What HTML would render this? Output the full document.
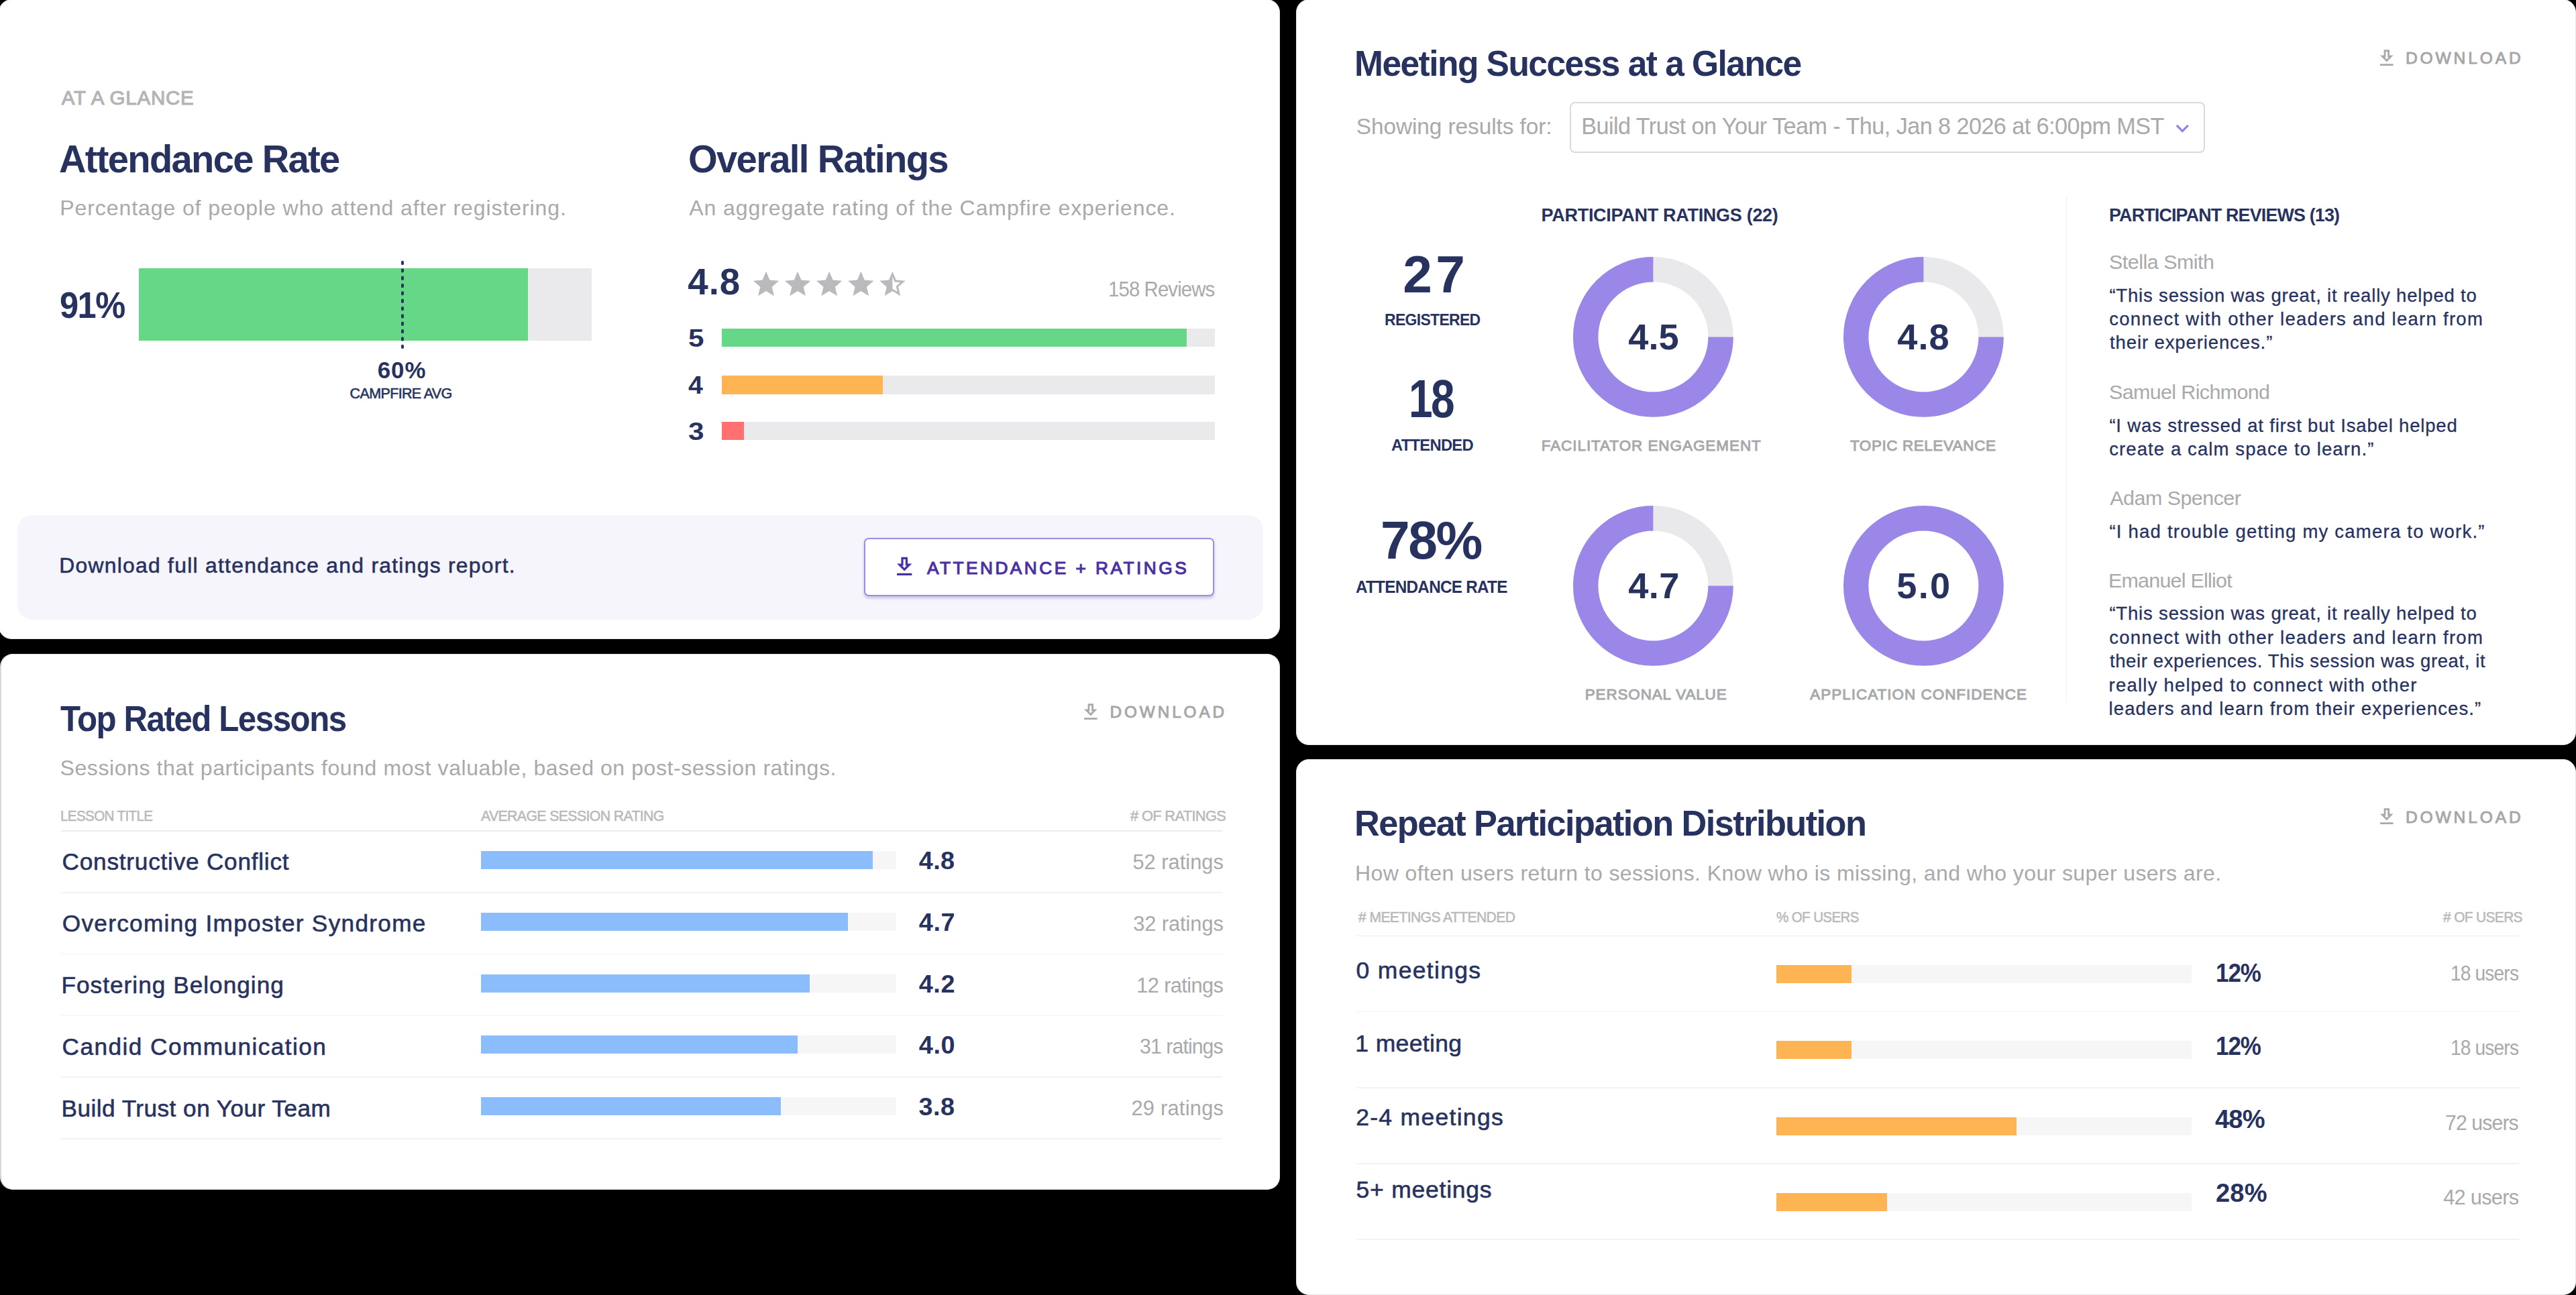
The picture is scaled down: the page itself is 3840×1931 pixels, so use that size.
<!DOCTYPE html>
<html><head><meta charset="utf-8"><title>Dashboard</title>
<style>
html,body{margin:0;padding:0;background:#000;}
html{overflow:hidden;width:3840px;height:1931px;}
body{width:3840px;height:1931px;position:relative;overflow:hidden;font-family:"Liberation Sans",sans-serif;}
.t{position:absolute;white-space:pre;line-height:1;margin:0;padding:0;}
.card{position:absolute;background:#fff;border-radius:19px;box-sizing:border-box;}
.b{position:absolute;}
svg{position:absolute;overflow:visible;}
</style></head><body>

<section aria-label="At a glance">
<div class="card" style="left:-2px;top:-1px;width:1910px;height:954px;border:1px solid #e6e6e8;"></div>
<div class="b" style="left:207px;top:400px;width:675px;height:108px;background:#eaeaec;"></div>
<div class="b" style="left:207px;top:400px;width:580px;height:108px;background:#66d786;"></div>
<svg style="left:589.5px;top:380px;" width="20" height="150"><line x1="10" y1="10.8" x2="10" y2="138" stroke="#28325f" stroke-width="4" stroke-dasharray="2.4 8.95" stroke-linecap="round"/></svg>

<!-- rating bars -->
<div class="b" style="left:1076px;top:490px;width:734.5px;height:27.4px;background:#eaeaec;"></div>
<div class="b" style="left:1076px;top:490px;width:693.4px;height:27.4px;background:#66d786;"></div>
<div class="b" style="left:1076px;top:560.3px;width:734.5px;height:27.3px;background:#eaeaec;"></div>
<div class="b" style="left:1076px;top:560.3px;width:240px;height:27.3px;background:#ffb454;"></div>
<div class="b" style="left:1076px;top:628.8px;width:734.5px;height:27.3px;background:#eaeaec;"></div>
<div class="b" style="left:1076px;top:628.8px;width:33.2px;height:27.3px;background:#ff7070;"></div>

<!-- stars -->
<svg style="left:1119.4px;top:401px;" width="234.4" height="46" viewBox="0 0 122.3 24" fill="#b9b9be">
 <path d="M12 17.27L18.18 21l-1.64-7.03L22 9.24l-7.19-.61L12 2 9.19 8.63 2 9.24l5.46 4.73L5.82 21z"/>
 <path transform="translate(24.575 0)" d="M12 17.27L18.18 21l-1.64-7.03L22 9.24l-7.19-.61L12 2 9.19 8.63 2 9.24l5.46 4.73L5.82 21z"/>
 <path transform="translate(49.15 0)" d="M12 17.27L18.18 21l-1.64-7.03L22 9.24l-7.19-.61L12 2 9.19 8.63 2 9.24l5.46 4.73L5.82 21z"/>
 <path transform="translate(73.725 0)" d="M12 17.27L18.18 21l-1.64-7.03L22 9.24l-7.19-.61L12 2 9.19 8.63 2 9.24l5.46 4.73L5.82 21z"/>
 <path transform="translate(98.3 0)" d="M22 9.24l-7.19-.62L12 2 9.19 8.63 2 9.24l5.46 4.73L5.82 21 12 17.27 18.18 21l-1.63-7.03L22 9.24zM12 15.4V6.1l1.71 4.04 4.38.38-3.32 2.88 1 4.28L12 15.4z"/>
</svg>

<!-- footer panel + button -->
<div class="b" style="left:26px;top:767.5px;width:1857px;height:156px;background:#f7f5fc;border-radius:22px;"></div>
<div class="b" style="left:1287.5px;top:802px;width:522px;height:87px;box-sizing:border-box;background:#fff;border:2px solid #a08ce0;border-radius:7px;box-shadow:0 2.5px 4px rgba(80,50,160,0.28);"></div>
<svg style="left:1328.9px;top:826.1px;" width="38.4" height="38.4" viewBox="0 0 24 24" fill="#4b30a3"><path d="M19 9h-4V3H9v6H5l7 7 7-7zm-8 2V5h2v6h1.17L12 13.17 9.83 11H11zm-6 7h14v2H5z"/></svg>
<div class="t" id="t0" style="left:91.84px;top:131px;font-size:29.5px;font-weight:400;color:#b4b4b7;letter-spacing:0.782px;-webkit-text-stroke:1.1px #b4b4b7;">AT A GLANCE</div>
<div class="t" id="t1" style="left:88.00px;top:210px;font-size:56.7px;font-weight:700;color:#28325f;letter-spacing:-1.701px;transform:scaleX(0.9899);transform-origin:0 0;">Attendance Rate</div>
<div class="t" id="t2" style="left:89.28px;top:294px;font-size:32.0px;font-weight:400;color:#a9a9ac;letter-spacing:0.915px;">Percentage of people who attend after registering.</div>
<div class="t" id="t3" style="left:89.45px;top:428px;font-size:55.7px;font-weight:700;color:#28325f;letter-spacing:-1.671px;transform:scaleX(0.9081);transform-origin:0 0;">91%</div>
<div class="t" id="t4" style="left:562.72px;top:535px;font-size:34.9px;font-weight:700;color:#28325f;letter-spacing:0.927px;">60%</div>
<div class="t" id="t5" style="left:521.61px;top:577px;font-size:21.5px;font-weight:400;color:#28325f;letter-spacing:-0.645px;-webkit-text-stroke:0.6px #28325f;">CAMPFIRE AVG</div>
<div class="t" id="t6" style="left:1026.30px;top:210px;font-size:56.7px;font-weight:700;color:#28325f;letter-spacing:-1.701px;transform:scaleX(0.9910);transform-origin:0 0;">Overall Ratings</div>
<div class="t" id="t7" style="left:1027.34px;top:294px;font-size:32.0px;font-weight:400;color:#a9a9ac;letter-spacing:0.902px;">An aggregate rating of the Campfire experience.</div>
<div class="t" id="t8" style="left:1025.37px;top:393px;font-size:54.7px;font-weight:700;color:#28325f;letter-spacing:0.890px;">4.8</div>
<div class="t" id="t9" style="left:1652.26px;top:416px;font-size:30.5px;font-weight:400;color:#a9a9ac;letter-spacing:-0.915px;transform:scaleX(0.9621);transform-origin:0 0;">158 Reviews</div>
<div class="t" id="t10" style="left:1025.70px;top:486px;font-size:37.8px;font-weight:700;color:#28325f;letter-spacing:0.000px;transform:scaleX(1.1160);transform-origin:0 0;">5</div>
<div class="t" id="t11" style="left:1026.41px;top:556px;font-size:37.8px;font-weight:700;color:#28325f;letter-spacing:0.000px;transform:scaleX(1.0367);transform-origin:0 0;">4</div>
<div class="t" id="t12" style="left:1026.03px;top:625px;font-size:37.8px;font-weight:700;color:#28325f;letter-spacing:0.000px;transform:scaleX(1.1171);transform-origin:0 0;">3</div>
<div class="t" id="t13" style="left:88.29px;top:828px;font-size:31.8px;font-weight:400;color:#28325f;letter-spacing:1.287px;-webkit-text-stroke:0.6px #28325f;">Download full attendance and ratings report.</div>
<div class="t" id="t14" style="left:1381.95px;top:834px;font-size:26.3px;font-weight:400;color:#4b30a3;letter-spacing:3.450px;-webkit-text-stroke:1.1px #4b30a3;">ATTENDANCE + RATINGS</div>
</section>
<section aria-label="Meeting success at a glance">
<div class="card" style="left:1932px;top:-1px;width:1908px;height:1112px;border:1px solid #e6e6e8;"></div>
<svg style="left:3540.7px;top:69.7px;" width="33.6" height="33.6" viewBox="0 0 24 24" fill="#a9a9ac"><path d="M19 9h-4V3H9v6H5l7 7 7-7zm-8 2V5h2v6h1.17L12 13.17 9.83 11H11zm-6 7h14v2H5z"/></svg>
<div class="b" style="left:2340.4px;top:152.4px;width:946.5px;height:75.6px;box-sizing:border-box;border:2px solid #dadadc;border-radius:8px;background:#fff;"></div>
<svg style="left:3234.45px;top:172.2px;" width="38.6" height="38.6" viewBox="0 0 24 24" fill="#9480ea"><path d="M16.59 8.59L12 13.17 7.41 8.59 6 10l6 6 6-6z"/></svg>
<div class="b" style="left:3079.6px;top:293px;width:1.6px;height:754px;background:#f0f0f2;"></div>

<!-- donuts -->
<svg style="left:2345.2px;top:382.8px;" width="238.8" height="238.8" viewBox="0 0 238.8 238.8">
 <circle cx="119.4" cy="119.4" r="100.7" fill="none" stroke="#e9e9eb" stroke-width="37.4"/>
 <path d="M 220.1 119.4 A 100.7 100.7 0 1 1 119.4 18.7" fill="none" stroke="#9b87e8" stroke-width="37.4"/>
</svg>
<svg style="left:2747.6px;top:382.8px;" width="238.8" height="238.8" viewBox="0 0 238.8 238.8">
 <circle cx="119.4" cy="119.4" r="100.7" fill="none" stroke="#e9e9eb" stroke-width="37.4"/>
 <path d="M 220.1 119.4 A 100.7 100.7 0 1 1 119.4 18.7" fill="none" stroke="#9b87e8" stroke-width="37.4"/>
</svg>
<svg style="left:2345.2px;top:753.6px;" width="238.8" height="238.8" viewBox="0 0 238.8 238.8">
 <circle cx="119.4" cy="119.4" r="100.7" fill="none" stroke="#e9e9eb" stroke-width="37.4"/>
 <path d="M 220.1 119.4 A 100.7 100.7 0 1 1 119.4 18.7" fill="none" stroke="#9b87e8" stroke-width="37.4"/>
</svg>
<svg style="left:2747.6px;top:753.6px;" width="238.8" height="238.8" viewBox="0 0 238.8 238.8">
 <circle cx="119.4" cy="119.4" r="100.7" fill="none" stroke="#9b87e8" stroke-width="37.4"/>
</svg>
<div class="t" id="t36" style="left:2019.15px;top:68px;font-size:53.1px;font-weight:700;color:#28325f;letter-spacing:-1.593px;transform:scaleX(0.9705);transform-origin:0 0;">Meeting Success at a Glance</div>
<div class="t" id="t37" style="left:3585.98px;top:75px;font-size:24.6px;font-weight:400;color:#a6a6a9;letter-spacing:3.836px;-webkit-text-stroke:0.9px #a6a6a9;">DOWNLOAD</div>
<div class="t" id="t38" style="left:2021.78px;top:172px;font-size:33.4px;font-weight:400;color:#a9a9ac;letter-spacing:-0.077px;">Showing results for:</div>
<div class="t" id="t39" style="left:2357.19px;top:171px;font-size:34.2px;font-weight:400;color:#a9a9ac;letter-spacing:-0.552px;">Build Trust on Your Team - Thu, Jan 8 2026 at 6:00pm MST</div>
<div class="t" id="t40" style="left:2297.59px;top:308px;font-size:27.0px;font-weight:700;color:#28325f;letter-spacing:-0.294px;">PARTICIPANT RATINGS (22)</div>
<div class="t" id="t41" style="left:3143.91px;top:308px;font-size:27.0px;font-weight:700;color:#28325f;letter-spacing:-0.810px;transform:scaleX(0.9929);transform-origin:0 0;">PARTICIPANT REVIEWS (13)</div>
<div class="t" id="t42" style="left:2091.28px;top:370px;font-size:78.5px;font-weight:700;color:#28325f;letter-spacing:5.443px;">27</div>
<div class="t" id="t43" style="left:2064.16px;top:465px;font-size:24.7px;font-weight:700;color:#28325f;letter-spacing:-0.741px;transform:scaleX(0.9309);transform-origin:0 0;">REGISTERED</div>
<div class="t" id="t44" style="left:2099.96px;top:555px;font-size:79.1px;font-weight:700;color:#28325f;letter-spacing:-3.164px;transform:scaleX(0.8100);transform-origin:0 0;">18</div>
<div class="t" id="t45" style="left:2074.21px;top:652px;font-size:24.7px;font-weight:700;color:#28325f;letter-spacing:-0.741px;transform:scaleX(0.9631);transform-origin:0 0;">ATTENDED</div>
<div class="t" id="t46" style="left:2057.63px;top:766px;font-size:79.9px;font-weight:700;color:#28325f;letter-spacing:-2.397px;transform:scaleX(0.9828);transform-origin:0 0;">78%</div>
<div class="t" id="t47" style="left:2020.89px;top:863px;font-size:25.0px;font-weight:700;color:#28325f;letter-spacing:-0.750px;transform:scaleX(0.9718);transform-origin:0 0;">ATTENDANCE RATE</div>
<div class="t" id="t48" style="left:2427.18px;top:475px;font-size:54.2px;font-weight:700;color:#28325f;letter-spacing:0.100px;">4.5</div>
<div class="t" id="t49" style="left:2828.18px;top:475px;font-size:54.2px;font-weight:700;color:#28325f;letter-spacing:1.080px;">4.8</div>
<div class="t" id="t50" style="left:2427.18px;top:846px;font-size:54.2px;font-weight:700;color:#28325f;letter-spacing:0.437px;">4.7</div>
<div class="t" id="t51" style="left:2827.33px;top:846px;font-size:54.2px;font-weight:700;color:#28325f;letter-spacing:2.281px;">5.0</div>
<div class="t" id="t52" style="left:2297.75px;top:654px;font-size:22.5px;font-weight:400;color:#a6a8ab;letter-spacing:0.929px;-webkit-text-stroke:0.95px #a6a8ab;">FACILITATOR ENGAGEMENT</div>
<div class="t" id="t53" style="left:2757.99px;top:654px;font-size:22.5px;font-weight:400;color:#a6a8ab;letter-spacing:0.553px;-webkit-text-stroke:0.95px #a6a8ab;">TOPIC RELEVANCE</div>
<div class="t" id="t54" style="left:2362.75px;top:1025px;font-size:22.5px;font-weight:400;color:#a6a8ab;letter-spacing:0.833px;-webkit-text-stroke:0.95px #a6a8ab;">PERSONAL VALUE</div>
<div class="t" id="t55" style="left:2698.36px;top:1025px;font-size:22.5px;font-weight:400;color:#a6a8ab;letter-spacing:0.976px;-webkit-text-stroke:0.95px #a6a8ab;">APPLICATION CONFIDENCE</div>
<div class="t" id="t56" style="left:3144.02px;top:375px;font-size:30.4px;font-weight:400;color:#a9a9ac;letter-spacing:-0.473px;">Stella Smith</div>
<div class="t" id="t57" style="left:3144.39px;top:427px;font-size:27.5px;font-weight:400;color:#28325f;letter-spacing:0.824px;-webkit-text-stroke:0.3px #28325f;">“This session was great, it really helped to</div>
<div class="t" id="t58" style="left:3144.23px;top:462px;font-size:27.5px;font-weight:400;color:#28325f;letter-spacing:1.265px;-webkit-text-stroke:0.3px #28325f;">connect with other leaders and learn from</div>
<div class="t" id="t59" style="left:3144.98px;top:497px;font-size:27.5px;font-weight:400;color:#28325f;letter-spacing:0.895px;-webkit-text-stroke:0.3px #28325f;">their experiences.”</div>
<div class="t" id="t60" style="left:3144.02px;top:569px;font-size:30.4px;font-weight:400;color:#a9a9ac;letter-spacing:-0.598px;">Samuel Richmond</div>
<div class="t" id="t61" style="left:3144.39px;top:621px;font-size:27.5px;font-weight:400;color:#28325f;letter-spacing:0.825px;-webkit-text-stroke:0.3px #28325f;">“I was stressed at first but Isabel helped</div>
<div class="t" id="t62" style="left:3144.23px;top:656px;font-size:27.5px;font-weight:400;color:#28325f;letter-spacing:1.097px;-webkit-text-stroke:0.3px #28325f;">create a calm space to learn.”</div>
<div class="t" id="t63" style="left:3145.34px;top:727px;font-size:30.4px;font-weight:400;color:#a9a9ac;letter-spacing:-0.497px;">Adam Spencer</div>
<div class="t" id="t64" style="left:3144.39px;top:779px;font-size:27.5px;font-weight:400;color:#28325f;letter-spacing:1.223px;-webkit-text-stroke:0.3px #28325f;">“I had trouble getting my camera to work.”</div>
<div class="t" id="t65" style="left:3142.91px;top:850px;font-size:30.4px;font-weight:400;color:#a9a9ac;letter-spacing:-0.727px;">Emanuel Elliot</div>
<div class="t" id="t66" style="left:3144.39px;top:901px;font-size:27.5px;font-weight:400;color:#28325f;letter-spacing:0.824px;-webkit-text-stroke:0.3px #28325f;">“This session was great, it really helped to</div>
<div class="t" id="t67" style="left:3144.23px;top:937px;font-size:27.5px;font-weight:400;color:#28325f;letter-spacing:1.265px;-webkit-text-stroke:0.3px #28325f;">connect with other leaders and learn from</div>
<div class="t" id="t68" style="left:3144.98px;top:972px;font-size:27.5px;font-weight:400;color:#28325f;letter-spacing:0.606px;-webkit-text-stroke:0.3px #28325f;">their experiences. This session was great, it</div>
<div class="t" id="t69" style="left:3143.57px;top:1008px;font-size:27.5px;font-weight:400;color:#28325f;letter-spacing:1.222px;-webkit-text-stroke:0.3px #28325f;">really helped to connect with other</div>
<div class="t" id="t70" style="left:3143.55px;top:1043px;font-size:27.5px;font-weight:400;color:#28325f;letter-spacing:1.113px;-webkit-text-stroke:0.3px #28325f;">leaders and learn from their experiences.”</div>
</section>
<section aria-label="Top rated lessons">
<div class="card" style="left:0;top:975px;width:1908px;height:799px;border:1px solid #e6e6e8;border-left:2px solid #d9d9db;"></div>
<svg style="left:1609.3px;top:1044.9px;" width="33.6" height="33.6" viewBox="0 0 24 24" fill="#a9a9ac"><path d="M19 9h-4V3H9v6H5l7 7 7-7zm-8 2V5h2v6h1.17L12 13.17 9.83 11H11zm-6 7h14v2H5z"/></svg>
<div class="b" style="left:90.6px;top:1238px;width:1731px;height:1.6px;background:#ececee;"></div>
<div class="b" style="left:90.6px;top:1330px;width:1731px;height:1.6px;background:#f2f2f4;"></div>
<div class="b" style="left:90.6px;top:1421.6px;width:1731px;height:1.6px;background:#f2f2f4;"></div>
<div class="b" style="left:90.6px;top:1513.6px;width:1731px;height:1.6px;background:#f2f2f4;"></div>
<div class="b" style="left:90.6px;top:1605.4px;width:1731px;height:1.6px;background:#f2f2f4;"></div>
<div class="b" style="left:90.6px;top:1697.2px;width:1731px;height:1.6px;background:#f2f2f4;"></div>

<div class="b" style="left:717px;top:1268.8px;width:619px;height:27px;background:#f6f6f7;"></div>
<div class="b" style="left:717px;top:1268.8px;width:583.5px;height:27px;background:#8bbcfb;"></div>
<div class="b" style="left:717px;top:1361px;width:619px;height:27px;background:#f6f6f7;"></div>
<div class="b" style="left:717px;top:1361px;width:546.6px;height:27px;background:#8bbcfb;"></div>
<div class="b" style="left:717px;top:1453px;width:619px;height:27px;background:#f6f6f7;"></div>
<div class="b" style="left:717px;top:1453px;width:489.5px;height:27px;background:#8bbcfb;"></div>
<div class="b" style="left:717px;top:1544.3px;width:619px;height:27px;background:#f6f6f7;"></div>
<div class="b" style="left:717px;top:1544.3px;width:472.4px;height:27px;background:#8bbcfb;"></div>
<div class="b" style="left:717px;top:1636px;width:619px;height:27px;background:#f6f6f7;"></div>
<div class="b" style="left:717px;top:1636px;width:447px;height:27px;background:#8bbcfb;"></div>
<div class="t" id="t15" style="left:90.35px;top:1045px;font-size:54.4px;font-weight:700;color:#28325f;letter-spacing:-1.632px;transform:scaleX(0.9061);transform-origin:0 0;">Top Rated Lessons</div>
<div class="t" id="t16" style="left:1654.41px;top:1050px;font-size:24.3px;font-weight:400;color:#a6a6a9;letter-spacing:3.952px;-webkit-text-stroke:0.9px #a6a6a9;">DOWNLOAD</div>
<div class="t" id="t17" style="left:89.55px;top:1129px;font-size:32.0px;font-weight:400;color:#a9a9ac;letter-spacing:0.586px;">Sessions that participants found most valuable, based on post-session ratings.</div>
<div class="t" id="t18" style="left:90.31px;top:1205px;font-size:22.9px;font-weight:400;color:#b9b9bc;letter-spacing:-0.687px;transform:scaleX(0.8990);transform-origin:0 0;-webkit-text-stroke:0.55px #b9b9bc;">LESSON TITLE</div>
<div class="t" id="t19" style="left:716.86px;top:1205px;font-size:22.9px;font-weight:400;color:#b9b9bc;letter-spacing:-0.687px;transform:scaleX(0.9303);transform-origin:0 0;-webkit-text-stroke:0.55px #b9b9bc;">AVERAGE SESSION RATING</div>
<div class="t" id="t20" style="left:1685.40px;top:1205px;font-size:22.9px;font-weight:400;color:#b9b9bc;letter-spacing:-0.687px;transform:scaleX(0.9536);transform-origin:0 0;-webkit-text-stroke:0.55px #b9b9bc;"># OF RATINGS</div>
<div class="t" id="t21" style="left:92.61px;top:1267px;font-size:35.2px;font-weight:400;color:#28325f;letter-spacing:0.764px;-webkit-text-stroke:0.6px #28325f;">Constructive Conflict</div>
<div class="t" id="t22" style="left:1369.83px;top:1265px;font-size:37.8px;font-weight:700;color:#28325f;letter-spacing:0.344px;">4.8</div>
<div class="t" id="t23" style="left:1688.47px;top:1271px;font-size:30.8px;font-weight:400;color:#a9a9ac;letter-spacing:0.022px;">52 ratings</div>
<div class="t" id="t24" style="left:92.73px;top:1359px;font-size:35.2px;font-weight:400;color:#28325f;letter-spacing:1.301px;-webkit-text-stroke:0.6px #28325f;">Overcoming Imposter Syndrome</div>
<div class="t" id="t25" style="left:1369.83px;top:1357px;font-size:37.8px;font-weight:700;color:#28325f;letter-spacing:0.593px;">4.7</div>
<div class="t" id="t26" style="left:1689.13px;top:1363px;font-size:30.8px;font-weight:400;color:#a9a9ac;letter-spacing:-0.052px;">32 ratings</div>
<div class="t" id="t27" style="left:91.51px;top:1451px;font-size:35.2px;font-weight:400;color:#28325f;letter-spacing:1.021px;-webkit-text-stroke:0.6px #28325f;">Fostering Belonging</div>
<div class="t" id="t28" style="left:1369.83px;top:1449px;font-size:37.8px;font-weight:700;color:#28325f;letter-spacing:0.519px;">4.2</div>
<div class="t" id="t29" style="left:1694.25px;top:1455px;font-size:30.8px;font-weight:400;color:#a9a9ac;letter-spacing:-0.621px;">12 ratings</div>
<div class="t" id="t30" style="left:92.61px;top:1543px;font-size:35.2px;font-weight:400;color:#28325f;letter-spacing:1.449px;-webkit-text-stroke:0.6px #28325f;">Candid Communication</div>
<div class="t" id="t31" style="left:1369.83px;top:1540px;font-size:37.8px;font-weight:700;color:#28325f;letter-spacing:0.538px;">4.0</div>
<div class="t" id="t32" style="left:1699.25px;top:1546px;font-size:30.8px;font-weight:400;color:#a9a9ac;letter-spacing:-0.924px;transform:scaleX(0.9820);transform-origin:0 0;">31 ratings</div>
<div class="t" id="t33" style="left:91.51px;top:1635px;font-size:35.2px;font-weight:400;color:#28325f;letter-spacing:0.467px;-webkit-text-stroke:0.6px #28325f;">Build Trust on Your Team</div>
<div class="t" id="t34" style="left:1369.53px;top:1632px;font-size:37.8px;font-weight:700;color:#28325f;letter-spacing:0.492px;">3.8</div>
<div class="t" id="t35" style="left:1686.45px;top:1638px;font-size:30.8px;font-weight:400;color:#a9a9ac;letter-spacing:0.246px;">29 ratings</div>
</section>
<section aria-label="Repeat participation distribution">
<div class="card" style="left:1932px;top:1132px;width:1908px;height:799px;border:1px solid #e6e6e8;"></div>
<svg style="left:3540.7px;top:1201.4px;" width="33.6" height="33.6" viewBox="0 0 24 24" fill="#a9a9ac"><path d="M19 9h-4V3H9v6H5l7 7 7-7zm-8 2V5h2v6h1.17L12 13.17 9.83 11H11zm-6 7h14v2H5z"/></svg>
<div class="b" style="left:2022.6px;top:1394.8px;width:1732px;height:1.6px;background:#ececee;"></div>
<div class="b" style="left:2022.6px;top:1507.8px;width:1732px;height:1.6px;background:#f2f2f4;"></div>
<div class="b" style="left:2022.6px;top:1621.2px;width:1732px;height:1.6px;background:#f2f2f4;"></div>
<div class="b" style="left:2022.6px;top:1734.3px;width:1732px;height:1.6px;background:#f2f2f4;"></div>
<div class="b" style="left:2022.6px;top:1847.4px;width:1732px;height:1.6px;background:#f2f2f4;"></div>

<div class="b" style="left:2648px;top:1438.7px;width:619.2px;height:27.4px;background:#f6f6f7;"></div>
<div class="b" style="left:2648px;top:1438.7px;width:112px;height:27.4px;background:#ffb454;"></div>
<div class="b" style="left:2648px;top:1552.2px;width:619.2px;height:27.3px;background:#f6f6f7;"></div>
<div class="b" style="left:2648px;top:1552.2px;width:112px;height:27.3px;background:#ffb454;"></div>
<div class="b" style="left:2648px;top:1666px;width:619.2px;height:27.2px;background:#f6f6f7;"></div>
<div class="b" style="left:2648px;top:1666px;width:357.7px;height:27.2px;background:#ffb454;"></div>
<div class="b" style="left:2648px;top:1778.8px;width:619.2px;height:27.2px;background:#f6f6f7;"></div>
<div class="b" style="left:2648px;top:1778.8px;width:164.6px;height:27.2px;background:#ffb454;"></div>
<div class="t" id="t71" style="left:2018.90px;top:1202px;font-size:52.9px;font-weight:700;color:#28325f;letter-spacing:-1.587px;transform:scaleX(0.9895);transform-origin:0 0;">Repeat Participation Distribution</div>
<div class="t" id="t72" style="left:3585.98px;top:1207px;font-size:24.6px;font-weight:400;color:#a6a6a9;letter-spacing:3.836px;-webkit-text-stroke:0.9px #a6a6a9;">DOWNLOAD</div>
<div class="t" id="t73" style="left:2019.97px;top:1286px;font-size:32.0px;font-weight:400;color:#a9a9ac;letter-spacing:0.396px;">How often users return to sessions. Know who is missing, and who your super users are.</div>
<div class="t" id="t74" style="left:2024.51px;top:1356px;font-size:22.7px;font-weight:400;color:#b9b9bc;letter-spacing:-0.681px;transform:scaleX(0.9331);transform-origin:0 0;-webkit-text-stroke:0.55px #b9b9bc;"># MEETINGS ATTENDED</div>
<div class="t" id="t75" style="left:2648.37px;top:1356px;font-size:22.7px;font-weight:400;color:#b9b9bc;letter-spacing:-0.681px;transform:scaleX(0.9058);transform-origin:0 0;-webkit-text-stroke:0.55px #b9b9bc;">% OF USERS</div>
<div class="t" id="t76" style="left:3641.91px;top:1356px;font-size:22.7px;font-weight:400;color:#b9b9bc;letter-spacing:-0.681px;transform:scaleX(0.9206);transform-origin:0 0;-webkit-text-stroke:0.55px #b9b9bc;"># OF USERS</div>
<div class="t" id="t77" style="left:2021.61px;top:1430px;font-size:35.5px;font-weight:400;color:#28325f;letter-spacing:1.301px;-webkit-text-stroke:0.6px #28325f;">0 meetings</div>
<div class="t" id="t78" style="left:3302.60px;top:1432px;font-size:38.1px;font-weight:700;color:#28325f;letter-spacing:-1.143px;transform:scaleX(0.9188);transform-origin:0 0;">12%</div>
<div class="t" id="t79" style="left:3653.06px;top:1437px;font-size:30.8px;font-weight:400;color:#a9a9ac;letter-spacing:-0.924px;transform:scaleX(0.9131);transform-origin:0 0;">18 users</div>
<div class="t" id="t80" style="left:2020.30px;top:1539px;font-size:35.5px;font-weight:400;color:#28325f;letter-spacing:0.361px;-webkit-text-stroke:0.6px #28325f;">1 meeting</div>
<div class="t" id="t81" style="left:3302.60px;top:1541px;font-size:38.1px;font-weight:700;color:#28325f;letter-spacing:-1.143px;transform:scaleX(0.9188);transform-origin:0 0;">12%</div>
<div class="t" id="t82" style="left:3653.06px;top:1548px;font-size:30.8px;font-weight:400;color:#a9a9ac;letter-spacing:-0.924px;transform:scaleX(0.9131);transform-origin:0 0;">18 users</div>
<div class="t" id="t83" style="left:2021.21px;top:1649px;font-size:35.5px;font-weight:400;color:#28325f;letter-spacing:1.295px;-webkit-text-stroke:0.6px #28325f;">2-4 meetings</div>
<div class="t" id="t84" style="left:3301.92px;top:1650px;font-size:38.1px;font-weight:700;color:#28325f;letter-spacing:-0.769px;">48%</div>
<div class="t" id="t85" style="left:3645.35px;top:1660px;font-size:30.8px;font-weight:400;color:#a9a9ac;letter-spacing:-0.924px;transform:scaleX(0.9829);transform-origin:0 0;">72 users</div>
<div class="t" id="t86" style="left:2021.58px;top:1757px;font-size:35.5px;font-weight:400;color:#28325f;letter-spacing:0.761px;-webkit-text-stroke:0.6px #28325f;">5+ meetings</div>
<div class="t" id="t87" style="left:3302.88px;top:1760px;font-size:38.1px;font-weight:700;color:#28325f;letter-spacing:0.253px;">28%</div>
<div class="t" id="t88" style="left:3642.19px;top:1771px;font-size:30.8px;font-weight:400;color:#a9a9ac;letter-spacing:-0.744px;">42 users</div>
</section>
</body></html>
